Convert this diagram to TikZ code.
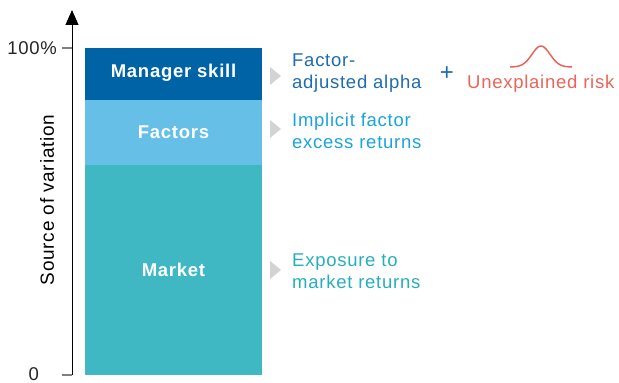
\documentclass[tikz,border=0pt]{standalone}
\usepackage{fontspec}
\setmainfont{Liberation Sans}
\newfontfamily\spacedfont[LetterSpace=4]{Liberation Sans}
\usetikzlibrary{arrows.meta}
\definecolor{skillblue}{HTML}{0063A6}
\definecolor{factorblue}{HTML}{66BFE6}
\definecolor{marketteal}{HTML}{40B8C4}
\definecolor{pointergray}{HTML}{D2D3D5}
\definecolor{alphablue}{HTML}{1E6CAE}
\definecolor{excessblue}{HTML}{1BA3DC}
\definecolor{exposureteal}{HTML}{27AEBC}
\definecolor{riskred}{HTML}{EA6459}
\tikzset{
	barlabel/.style={text=white, font=\spacedfont\fontsize{18.5}{22}\selectfont\bfseries},
	sidetext/.style={anchor=west, align=left, inner sep=0pt, font=\spacedfont\fontsize{18.5}{22}\selectfont},
	ticklabel/.style={anchor=east, inner sep=0pt, text=black!85, font=\spacedfont\fontsize{18.5}{22}\selectfont},
	pointer/.style={fill=pointergray, draw=none}
}
\begin{document}
\begin{tikzpicture}[x=1pt, y=1pt]
	\useasboundingbox (0,0) rectangle (619,383);
	% stacked bar
	\fill[marketteal] (85,8) rectangle (262,218);
	\fill[factorblue] (85,218) rectangle (262,283);
	\fill[skillblue] (85,283) rectangle (262,335);
	\node[barlabel] (skill) at (173.5,310) {Manager skill};
	\node[barlabel] (factors) at (173.5,251) {Factors};
	\node[barlabel] (market) at (173.5,113) {Market};
	% axis
	\draw[line width=1pt, -{Triangle[length=15pt,width=13pt]}] (72,8) -- (72,373);
	\draw[gray, line width=1.5pt] (62,335) -- (72,335);
	\draw[gray, line width=1.5pt] (62,8) -- (72,8);
	\node[ticklabel] (top) at (57,335) {100\%};
	\node[ticklabel] (zero) at (39,9) {0};
	\node[rotate=90, font=\spacedfont\fontsize{19}{22}\selectfont] (axislabel) at (47,183) {Source of variation};
	% pointers
	\foreach \y in {307,254,113}{
		\fill[pointer] (270,\y+9) -- (281,\y) -- (270,\y-9) -- cycle;
	}
	% explanations
	\node[sidetext, text=alphablue] (alpha) at (292,310) {Factor-\\adjusted alpha};
	\node[sidetext, text=excessblue] (excess) at (292,252) {Implicit factor\\excess returns};
	\node[sidetext, text=exposureteal] (exposure) at (292,112) {Exposure to\\market returns};
	\node[text=alphablue, font=\fontsize{24}{24}\selectfont] (plus) at (447,309) {+};
	\node[sidetext, text=riskred] (risk) at (467,299) {Unexplained risk};
	\draw[riskred, line width=1.5pt, domain=510:572, samples=60, smooth]
		plot (\x, {316+21*exp(-((\x-541)^2)/(2*9^2))});
\end{tikzpicture}
\end{document}
